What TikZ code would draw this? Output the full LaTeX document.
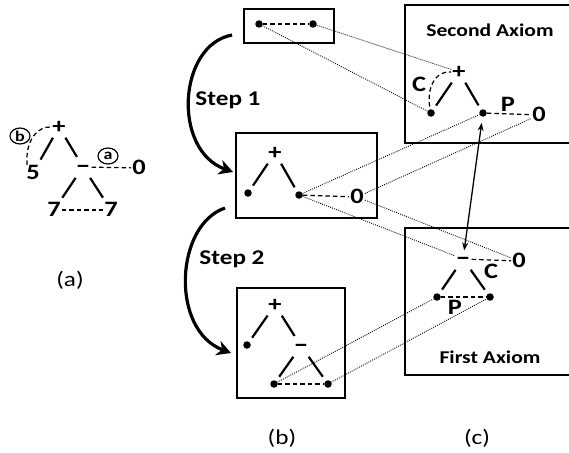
\documentclass[tikz,border=0pt]{standalone}
\usepackage{fontspec}
\setmainfont{Carlito}[FakeStretch=1.2]
\usetikzlibrary{arrows.meta,shapes.geometric}

\begin{document}
\begin{tikzpicture}[x=1pt,y=-1pt,
  sym/.style={font=\bfseries\fontsize{22}{22}\selectfont,inner sep=1pt,text height=13.9pt,text depth=0pt},
  minus/.style={sym,font=\bfseries\fontsize{25}{25}\selectfont,text height=12.7pt},
  steplabel/.style={font=\bfseries\fontsize{21}{21}\selectfont,inner sep=0pt},
  axtitle/.style={font=\bfseries\fontsize{18}{18}\selectfont,inner sep=0pt},
  panelcap/.style={font=\fontsize{21}{21}\selectfont,inner sep=0pt},
  dot/.style={circle,fill,inner sep=0pt,minimum size=7.5pt},
  circ/.style={draw,ellipse,line width=1.2pt,inner sep=0pt,minimum width=20pt,minimum height=16pt,font=\bfseries\fontsize{15}{15}\selectfont},
  edge/.style={line width=2.2pt,shorten <=3pt,shorten >=3pt},
  link/.style={line width=1.2pt,dash pattern=on 4.5pt off 3pt},
  trace/.style={line width=.9pt,dash pattern=on .9pt off 1.2pt},
  frame/.style={line width=2.8pt},
  stepto/.style={line width=3.2pt,-{Stealth[length=14pt,width=15pt]}}]
\clip (0,0) rectangle (569,452);

% (a)
\node[sym] (aplus) at (59,127) {+};
\node[sym] (afive) at (33,173) {5};
\node[minus] (aminus) at (83,167) {–};
\node[sym] (azero) at (139,168) {0};
\node[sym] (asevl) at (54,210) {7};
\node[sym] (asevr) at (111,210) {7};
\node[circ] (ab) at (20,136) {b};
\node[circ] (aa) at (108,156) {a};
\draw[edge,shorten >=6pt] (aplus)--(afive);
\draw[edge] (aplus)--(aminus);
\draw[edge,shorten <=4pt,shorten >=5pt] (aminus)--(asevl);
\draw[edge,shorten <=4pt,shorten >=5pt] (aminus)--(asevr);
\draw[link] (aminus)--(azero);
\draw[link] (asevl)--(asevr);
\draw[link] ([xshift=2pt]afive.north west) .. controls (25,140) and (38,126) .. (aplus.west);
\node[panelcap] (la) at (70,280) {(a)};

% (b)
\draw[frame] (244,9) rectangle (334,43);
\node[dot] (tl) at (259,24) {};
\node[dot] (tr) at (313,24) {};
\draw[link] (tl)--(tr);

\draw[frame] (236,133) rectangle (377,218);
\node[sym] (mplus) at (275,153) {+};
\node[dot] (ml) at (248,193) {};
\node[dot] (mr) at (299,195) {};
\node[sym] (mzero) at (357,197) {0};
\draw[edge,shorten >=5pt] (mplus)--(ml);
\draw[edge,shorten >=5pt] (mplus)--(mr);
\draw[link] (mr)--(mzero);

\draw[frame] (237,288) rectangle (345,398);
\node[sym] (bplus) at (275,305) {+};
\node[dot] (bl) at (247,345) {};
\node[minus] (bminus) at (301,346) {–};
\node[dot] (bbl) at (274,384) {};
\node[dot] (bbr) at (328,384) {};
\draw[edge,shorten >=5pt] (bplus)--(bl);
\draw[edge] (bplus)--(bminus);
\draw[edge,shorten <=4pt,shorten >=5pt] (bminus)--(bbl);
\draw[edge,shorten <=4pt,shorten >=5pt] (bminus)--(bbr);
\draw[link] (bbl)--(bbr);

\coordinate (s1a) at (232,35);
\coordinate (s1b) at (233,172);
\coordinate (s2a) at (225,208);
\coordinate (s2b) at (231,353);
\draw[stepto] (s1a) .. controls (178,45) and (172,150) .. (s1b);
\draw[stepto] (s2a) .. controls (175,225) and (170,330) .. (s2b);
\node[steplabel] (step1) at (228,100) {Step 1};
\node[steplabel] (step2) at (232,259) {Step 2};
\node[panelcap] (lb) at (282,438) {(b)};

% (c)
\draw[frame] (405,5) rectangle (590,143);
\node[axtitle] (sectitle) at (490,30) {Second Axiom};
\node[sym] (splus) at (459,72) {+};
\node[sym] (sc) at (419,85) {C};
\node[dot] (sl) at (431,113) {};
\node[dot] (sr) at (483,113) {};
\node[sym] (sp) at (508,105) {P};
\node[sym] (szero) at (539,115) {0};
\draw[edge,shorten >=5pt] (splus)--(sl);
\draw[edge,shorten >=5pt] (splus)--(sr);
\draw[link] (sr)--(szero);
\draw[link] ([yshift=-5pt]sl.north) .. controls (424,85) and (438,70) .. (splus.west);

\draw[frame] (405,228) rectangle (590,375);
\node[minus] (fminus) at (463,259) {–};
\node[sym] (fzero) at (519,261) {0};
\node[sym] (fc) at (491,272) {C};
\node[dot] (fl) at (437,297) {};
\node[dot] (fr) at (490,297) {};
\node[sym] (fp) at (455,308) {P};
\node[axtitle] (firtitle) at (490,357) {First Axiom};
\draw[edge,shorten <=4pt,shorten >=5pt] (fminus)--(fl);
\draw[edge,shorten <=4pt,shorten >=5pt] (fminus)--(fr);
\draw[link] (fminus)--(fzero);
\draw[link] (fl)--(fr);
\node[panelcap] (lc) at (477,438) {(c)};

\draw[line width=1.3pt,{Stealth[length=8pt,width=6pt]}-{Stealth[length=8pt,width=6pt]},shorten <=6pt,shorten >=1pt] (sr)--(fminus);

\draw[trace] (tl)--(sl);
\draw[trace] (tr)--(splus);
\draw[trace] (mr)--(sr);
\draw[trace] (mzero)--(szero);
\draw[trace] (mr)--(fminus);
\draw[trace] (mzero)--(fzero);
\draw[trace] (bbl)--(fl);
\draw[trace] (bbr)--(fr);
\end{tikzpicture}
\end{document}
